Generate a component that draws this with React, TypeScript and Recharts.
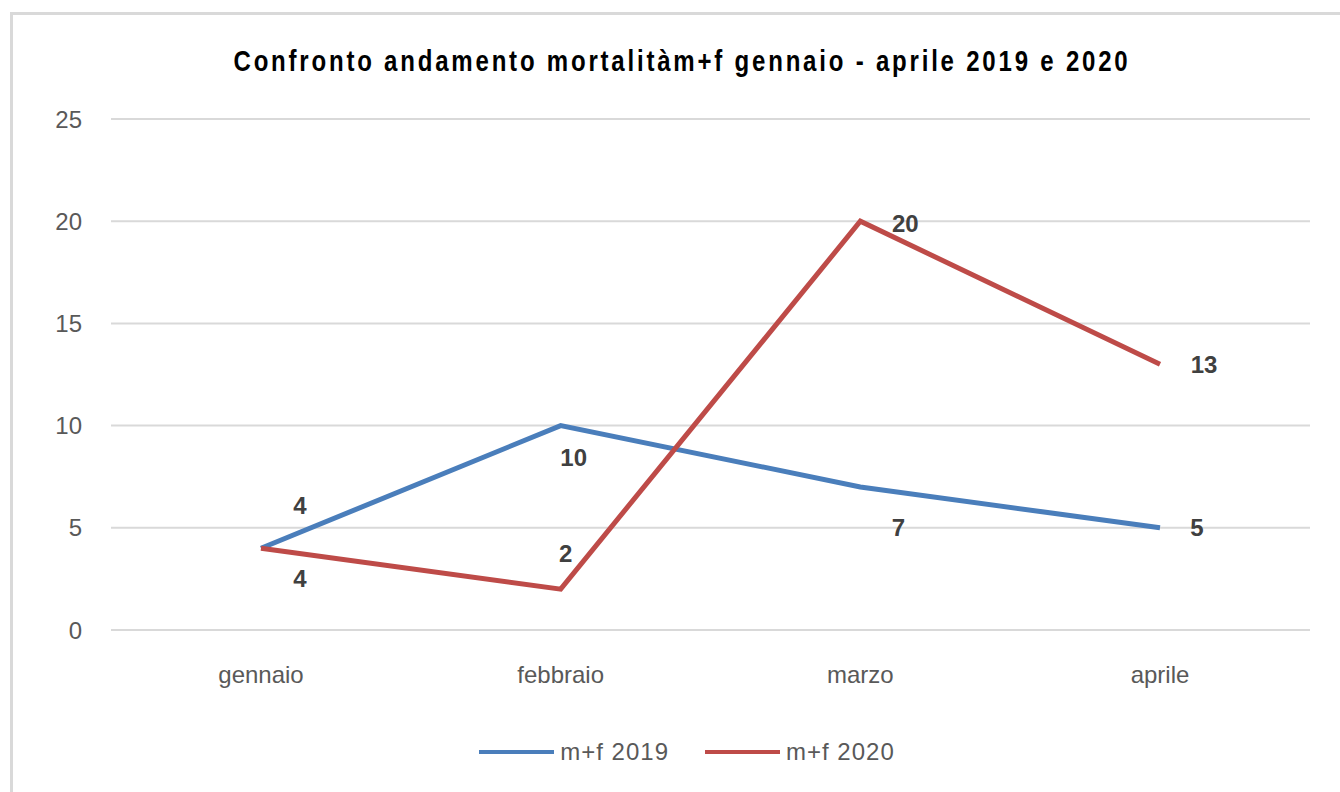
import { LineChart, Line, XAxis, YAxis, CartesianGrid, Legend, LabelList } from "recharts";

const months = ["gennaio", "febbraio", "marzo", "aprile"];
const deaths2019 = [4, 10, 7, 5];
const deaths2020 = [4, 2, 20, 13];
const yTicks = [0, 5, 10, 15, 20, 25];

const BLUE = "#4a7ebb";
const RED = "#be4b48";
const FONT = "'Liberation Sans', Arial, sans-serif";

// where Excel left each data label, relative to its point
const OFFSETS_2019: [number, number][] = [[39, -43], [13, 32], [38, 41], [37, 0]];
const OFFSETS_2020: [number, number][] = [[39, 30], [5, -36], [45, 2], [44, 0]];

const data = months.map((m, i) => ({ month: m, y2019: deaths2019[i], y2020: deaths2020[i] }));

function makeLabel(offsets: [number, number][]) {
  return (props: any) => {
    const { x, y, value, index } = props;
    const [dx, dy] = offsets[index] ?? [0, 0];
    return (
      <text
        x={x + dx}
        y={y + dy}
        textAnchor="middle"
        dominantBaseline="central"
        fontSize={24}
        fontWeight="bold"
        fontFamily={FONT}
        fill="#404040"
      >
        {value}
      </text>
    );
  };
}

function LegendContent({ payload }: any) {
  return (
    <div style={{ display: "flex", justifyContent: "center", paddingLeft: 70, fontFamily: FONT }}>
      {(payload ?? []).map((p: any) => (
        <div key={p.value} style={{ display: "flex", alignItems: "center", marginRight: 36 }}>
          <div style={{ width: 75, height: 4, background: p.color, marginRight: 6 }} />
          <span style={{ fontSize: 24, color: "#595959", letterSpacing: 1 }}>{p.value}</span>
        </div>
      ))}
    </div>
  );
}

export default function App() {
  return (
    <div style={{ position: "fixed", left: 0, top: 0, width: 1340, height: 792, overflow: "hidden", background: "#fff" }}>
      <div
        style={{
          position: "absolute",
          left: 10,
          top: 12,
          width: 1400,
          height: 900,
          border: "3px solid #d9d9d9",
        }}
      />
      <div
        style={{
          position: "absolute",
          left: 0,
          top: 47,
          width: 1364,
          textAlign: "center",
          fontFamily: FONT,
          fontWeight: "bold",
          fontSize: 24,
          letterSpacing: 2.8,
          transform: "scaleY(1.25)",
          color: "#000",
        }}
      >
        Confronto andamento mortalitàm+f gennaio - aprile 2019 e 2020
      </div>
      <div style={{ position: "absolute", left: 0, top: 0 }}>
        <LineChart width={1340} height={792} data={data} margin={{ top: 119, right: 30, left: 0, bottom: 104 }}>
          <CartesianGrid vertical={false} stroke="#d9d9d9" strokeWidth={2} />
          <XAxis
            dataKey="month"
            axisLine={false}
            tickLine={false}
            tickSize={0}
            tickMargin={36}
            padding={{ left: 150, right: 150 }}
            tick={{ fontSize: 24, fill: "#595959", fontFamily: FONT }}
          />
          <YAxis
            width={111}
            domain={[0, 25]}
            ticks={yTicks}
            axisLine={false}
            tickLine={false}
            tickSize={0}
            tickMargin={29}
            tick={{ fontSize: 24, fill: "#595959", fontFamily: FONT }}
          />
          <Legend
            verticalAlign="bottom"
            content={<LegendContent />}
            wrapperStyle={{ top: 738, left: 0, width: 1340 }}
          />
          <Line
            type="linear"
            dataKey="y2019"
            name="m+f 2019"
            stroke={BLUE}
            strokeWidth={5}
            dot={false}
            isAnimationActive={false}
          >
            <LabelList dataKey="y2019" content={makeLabel(OFFSETS_2019)} />
          </Line>
          <Line
            type="linear"
            dataKey="y2020"
            name="m+f 2020"
            stroke={RED}
            strokeWidth={5}
            dot={false}
            isAnimationActive={false}
          >
            <LabelList dataKey="y2020" content={makeLabel(OFFSETS_2020)} />
          </Line>
        </LineChart>
      </div>
    </div>
  );
}
